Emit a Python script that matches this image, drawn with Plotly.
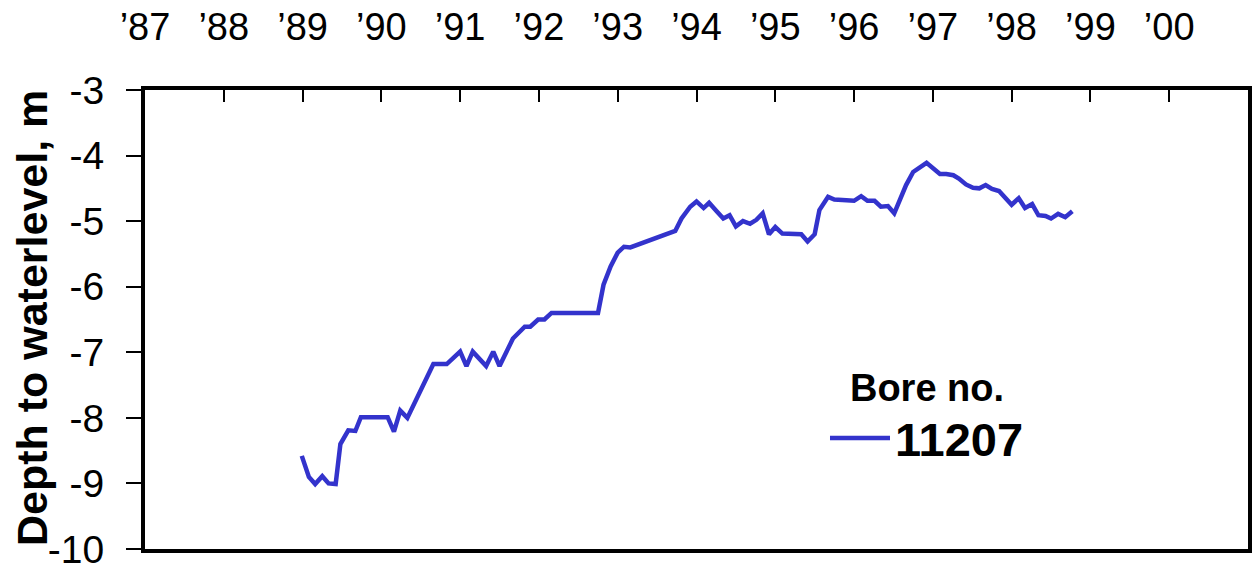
import plotly.graph_objects as go

# Decimal year of each reading
years = [1988.99, 1989.08, 1989.16, 1989.25, 1989.33, 1989.42, 1989.48, 1989.58, 1989.67, 1989.74,
         1990.08, 1990.16, 1990.24, 1990.33, 1990.66, 1990.83, 1991.00, 1991.08, 1991.16, 1991.33,
         1991.42, 1991.50, 1991.67, 1991.82, 1991.89, 1991.99, 1992.07, 1992.16, 1992.75, 1992.82,
         1992.91, 1993.00, 1993.08, 1993.16, 1993.73, 1993.81, 1993.92, 1994.00, 1994.09, 1994.16,
         1994.25, 1994.34, 1994.42, 1994.50, 1994.59, 1994.68, 1994.76, 1994.84, 1994.92, 1995.00,
         1995.09, 1995.26, 1995.33, 1995.41, 1995.50, 1995.56, 1995.67, 1995.75, 1996.00, 1996.09,
         1996.17, 1996.26, 1996.34, 1996.43, 1996.51, 1996.66, 1996.75, 1996.92, 1997.09, 1997.17,
         1997.26, 1997.33, 1997.42, 1997.51, 1997.59, 1997.67, 1997.75, 1997.84, 1997.92, 1998.00,
         1998.09, 1998.17, 1998.26, 1998.34, 1998.43, 1998.50, 1998.59, 1998.68, 1998.77]

# Depth to waterlevel (m)
depth = [-8.58, -8.90, -9.01, -8.89, -9.00, -9.01, -8.40, -8.19, -8.20, -7.99,
         -7.99, -8.21, -7.89, -8.00, -7.18, -7.18, -6.99, -7.21, -6.99, -7.21,
         -6.99, -7.21, -6.79, -6.61, -6.61, -6.50, -6.50, -6.40, -6.40, -5.97,
         -5.69, -5.48, -5.39, -5.40, -5.15, -4.96, -4.78, -4.70, -4.80, -4.72,
         -4.84, -4.96, -4.91, -5.08, -5.00, -5.04, -4.98, -4.88, -5.20, -5.09,
         -5.19, -5.19, -5.20, -5.31, -5.20, -4.83, -4.63, -4.67, -4.69, -4.62,
         -4.69, -4.69, -4.78, -4.77, -4.88, -4.45, -4.25, -4.11, -4.28, -4.28,
         -4.30, -4.35, -4.44, -4.49, -4.50, -4.45, -4.51, -4.54, -4.64, -4.75,
         -4.65, -4.80, -4.74, -4.91, -4.92, -4.96, -4.89, -4.94, -4.85]

year_ticks = list(range(1987, 2001))
year_labels = ["\u2019" + str(y)[2:] for y in year_ticks]
depth_ticks = [-3, -4, -5, -6, -7, -8, -9, -10]

series_name = "11207"
legend_title = "Bore no."
y_title = "Depth to waterlevel, m"

FONT = "Liberation Sans, Arial, sans-serif"

fig = go.Figure()
fig.add_trace(go.Scatter(
    x=years, y=depth, mode="lines", name="<b>" + series_name + "</b>",
    line=dict(color="#3333cc", width=4.5),
))

fig.update_layout(
    width=1253, height=567,
    margin=dict(l=145, r=5, t=90, b=18),
    paper_bgcolor="white", plot_bgcolor="white",
    font=dict(family=FONT, color="black"),
    showlegend=True,
    legend=dict(
        x=0.6165, y=0.43, xanchor="left", yanchor="top",
        bgcolor="rgba(0,0,0,0)",
        title=dict(text="<b>" + legend_title + "</b>", side="top center",
                   font=dict(size=38, family=FONT, color="black")),
        font=dict(size=47, family=FONT, color="black"),
        itemwidth=60,
    ),
    xaxis=dict(
        range=[1987, 2001], side="top",
        tickmode="array", tickvals=year_ticks, ticktext=year_labels,
        ticks="inside", ticklen=12, tickwidth=2, tickcolor="black",
        tickfont=dict(size=38, family=FONT, color="black"),
        ticklabelstandoff=31, ticklabeloverflow="allow",
        showline=True, linewidth=4, linecolor="black", mirror=True,
        showgrid=False, zeroline=False, automargin=False,
    ),
    yaxis=dict(
        range=[-10, -3],
        tickmode="array", tickvals=depth_ticks, ticktext=[str(v) for v in depth_ticks],
        ticks="outside", ticklen=15, tickwidth=2, tickcolor="black",
        tickfont=dict(size=39, family=FONT, color="black"),
        ticklabelstandoff=14, ticklabeloverflow="allow",
        showline=True, linewidth=4, linecolor="black", mirror=True,
        showgrid=False, zeroline=False, automargin=False,
    ),
    annotations=[dict(
        text="<b>" + y_title + "</b>", textangle=-90,
        xref="paper", yref="paper", x=-0.1025, y=0.503,
        xanchor="center", yanchor="middle", showarrow=False,
        font=dict(size=43, family=FONT, color="black"),
    )],
)

fig.write_html("out.html", config={"displayModeBar": False},
               post_script="document.body.style.margin='0px';")
